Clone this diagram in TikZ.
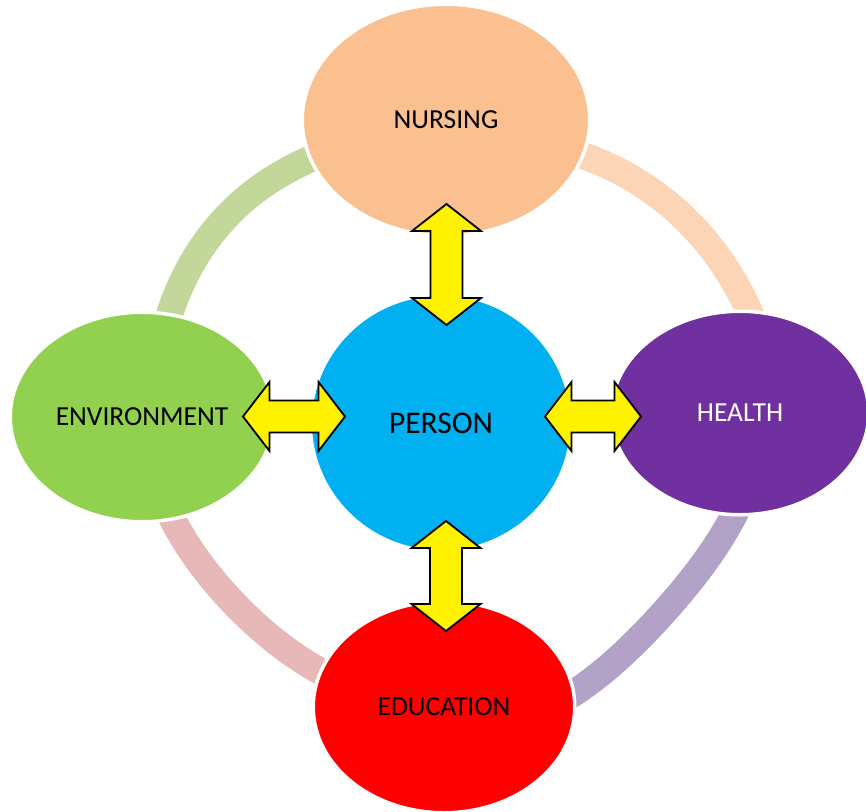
\documentclass[tikz,border=0pt]{standalone}
\usepackage{fontspec}
\setmainfont{Carlito}
\usetikzlibrary{shapes.geometric}
\definecolor{nursingC}{HTML}{FAC090}
\definecolor{healthC}{HTML}{7030A0}
\definecolor{envC}{HTML}{92D050}
\definecolor{eduC}{HTML}{FF0000}
\definecolor{personC}{HTML}{00B0F0}
\definecolor{ringNE}{HTML}{FBD5B5}
\definecolor{ringNW}{HTML}{C4D79B}
\definecolor{ringSW}{HTML}{E6B9B8}
\definecolor{ringSE}{HTML}{B3A2C7}
\newcommand\VArrow[3]{%
  \draw[blockarrow] (#1,#2) -- (#1+34.5,#2+27) -- (#1+16,#2+27) -- (#1+16,#3-27)
    -- (#1+34.5,#3-27) -- (#1,#3) -- (#1-34.5,#3-27) -- (#1-16,#3-27)
    -- (#1-16,#2+27) -- (#1-34.5,#2+27) -- cycle;}
\newcommand\HArrow[3]{%
  \draw[blockarrow] (#2,#1) -- (#2+26.5,#1-34.5) -- (#2+26.5,#1-16) -- (#3-26.5,#1-16)
    -- (#3-26.5,#1-34.5) -- (#3,#1) -- (#3-26.5,#1+34.5) -- (#3-26.5,#1+16)
    -- (#2+26.5,#1+16) -- (#2+26.5,#1+34.5) -- cycle;}
\begin{document}
\begin{tikzpicture}[x=1pt,y=-1pt,
  declare function={
    ringfrac(\pp,\qa,\qb)=(\pp-\qa)/(\qb-\qa);
    ringrad(\pp,\qa,\qb,\ra,\rb,\kk)=\ra+(\rb-\ra)*ringfrac(\pp,\qa,\qb)+\kk*sin(180*ringfrac(\pp,\qa,\qb));},
  ring/.style={line width=27pt},
  blob/.style={ellipse, inner sep=0pt, outer sep=0pt, draw=white, line width=3.5pt,
    font=\fontsize{27.5}{33}\selectfont},
  blockarrow/.style={draw=black, fill=yellow, line width=1.8pt, line join=miter}]
\useasboundingbox (0,0) rectangle (866,811);
% ring arcs
\draw[ring, draw=ringNE] plot[domain=67:13, samples=80, variable=\ang]
  ({443+ringrad(\ang,60.8,19.3,295.5,323,1.7)*cos(\ang)}, {415-ringrad(\ang,60.8,19.3,295.5,323,1.7)*sin(\ang)});
\draw[ring, draw=ringNW] plot[domain=112:165, samples=80, variable=\ang]
  ({443+ringrad(\ang,117.9,158.9,288.5,291.6,3.6)*cos(\ang)}, {415-ringrad(\ang,117.9,158.9,288.5,291.6,3.6)*sin(\ang)});
\draw[ring, draw=ringSW] plot[domain=195:250, samples=80, variable=\ang]
  ({443+ringrad(\ang,201.7,243.9,289.5,284,-5.5)*cos(\ang)}, {415-ringrad(\ang,201.7,243.9,289.5,284,-5.5)*sin(\ang)});
\draw[ring, draw=ringSE] plot[domain=-13:-70, samples=80, variable=\ang]
  ({443+ringrad(\ang,-19.4,-64.1,307.4,306.8,-11)*cos(\ang)}, {415-ringrad(\ang,-19.4,-64.1,307.4,306.8,-11)*sin(\ang)});
% nodes
\node[blob, fill=nursingC, minimum width=287.5pt, minimum height=231.5pt] (nursing) at (446,120) {NURSING};
\node[blob, fill=healthC, text=white, minimum width=257.5pt, minimum height=203.5pt] (health) at (740,413) {HEALTH};
\node[blob, fill=envC, minimum width=263.5pt, minimum height=209.5pt] (environment) at (142,417) {ENVIRONMENT};
\node[blob, fill=eduC, minimum width=261.5pt, minimum height=211.5pt] (education) at (444,707) {EDUCATION};
\node[blob, fill=personC, minimum width=261.5pt, minimum height=257.5pt, font=\fontsize{31.5}{38}\selectfont] (person) at (441,423) {PERSON};
% block arrows
\VArrow{446.5}{204}{325}
\VArrow{446}{521}{631}
\HArrow{416.5}{243}{345}
\HArrow{416.5}{545}{641}
\end{tikzpicture}
\end{document}
